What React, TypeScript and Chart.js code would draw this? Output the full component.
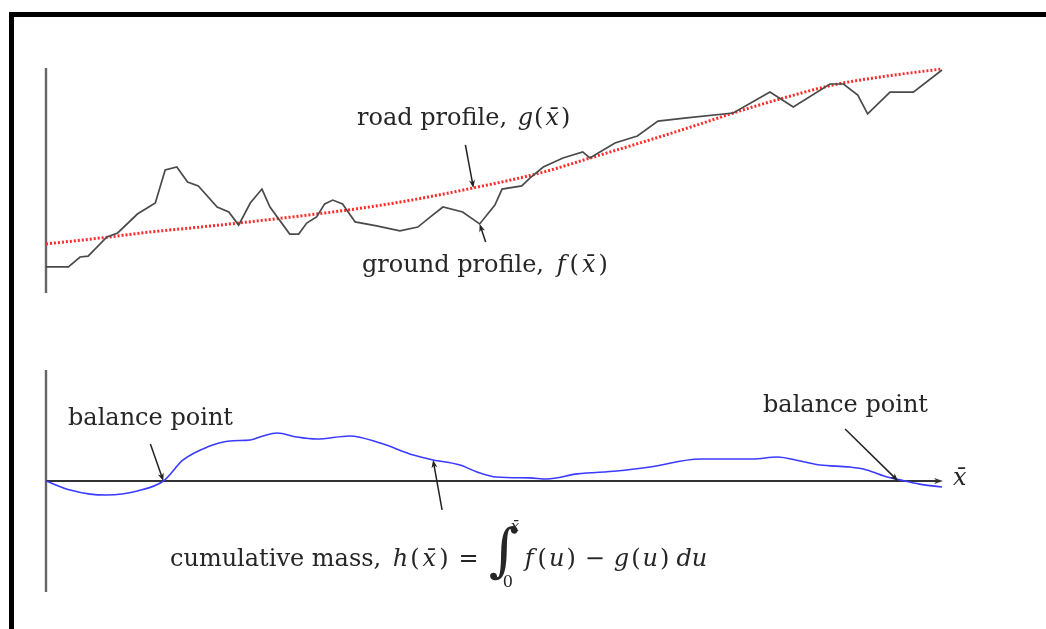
import React, { useEffect, useRef } from "react";
import { Chart, registerables } from "chart.js";

Chart.register(...registerables);

// distance along the route (0–100)
const groundX = [0, 2.5, 3.8, 4.7, 6.8, 8.0, 10.2, 12.2, 13.3, 14.6, 15.8, 17.0, 19.1, 20.4, 21.5, 22.8, 24.1, 25.0, 27.2, 28.2, 29.1, 30.2, 31.1, 32.0, 33.1, 34.5, 36.9, 39.5, 41.5, 42.9, 44.3, 46.5, 48.4, 50.1, 50.9, 53.1, 54.0, 55.5, 57.7, 59.9, 60.7, 63.5, 66.0, 68.3, 71.5, 76.7, 80.8, 83.4, 87.5, 89.0, 90.6, 91.7, 94.2, 96.8, 100];
// ground profile f(x)
const groundY = [11.6, 11.6, 16.0, 16.4, 24.9, 26.7, 35.1, 40.0, 54.7, 56.0, 49.3, 47.6, 38.2, 36.0, 30.2, 40.0, 46.2, 38.2, 26.2, 26.2, 31.1, 33.8, 39.6, 41.3, 39.6, 31.6, 29.8, 27.6, 29.3, 33.8, 38.2, 36.0, 30.7, 39.1, 46.2, 47.6, 51.1, 56.0, 60.0, 62.7, 60.0, 66.7, 69.8, 76.4, 77.8, 80.0, 89.3, 82.7, 92.9, 92.9, 88.0, 79.6, 89.3, 89.3, 99.1];

// road profile g(x)
const roadX = [0, 6.0, 11.6, 17.2, 21.5, 28.3, 32.8, 39.5, 47.7, 55.1, 61.8, 66.3, 73.0, 76.7, 81.9, 87.8, 93.1, 100];
const roadY = [21.8, 24.4, 27.1, 29.3, 31.1, 34.2, 36.4, 40.4, 46.7, 53.3, 61.3, 66.7, 75.1, 80.0, 86.2, 92.4, 96.0, 99.6];

// cumulative mass h(x)
const massX = [0, 2.7, 4.9, 6.8, 10.2, 13.1, 15.3, 18.0, 20.5, 22.8, 24.2, 25.8, 28.0, 30.2, 33.9, 37.3, 41.0, 43.2, 46.2, 48.1, 50.3, 54.0, 55.9, 59.3, 63.7, 67.4, 73.0, 76.0, 78.9, 81.6, 84.2, 86.4, 89.7, 91.6, 93.9, 95.3, 97.5, 100];
const massY = [0, -4.1, -5.9, -6.3, -4.5, 0, 9.5, 15.3, 18.0, 18.5, 20.3, 21.6, 19.8, 18.9, 20.3, 17.1, 11.7, 9.5, 7.2, 4.1, 1.8, 1.4, 0.9, 3.2, 4.5, 6.3, 9.9, 9.9, 9.9, 10.8, 9.0, 7.2, 6.3, 5.0, 1.8, 0.5, -1.4, -2.7];

const FONT = '"DejaVu Serif", serif';

type Ann = { x: number; y: number; dx: number; dy: number };
const topArrows: Ann[] = [
  { x: 47.7, y: 46.7, dx: -8, dy: -43 },
  { x: 48.4, y: 30.7, dx: 6, dy: 18 },
];
const bottomArrows: Ann[] = [
  { x: 13.1, y: 0, dx: -13, dy: -37 },
  { x: 43.2, y: 9.5, dx: 9, dy: 50 },
  { x: 95.1, y: 0, dx: -53, dy: -52 },
];

function drawArrow(ctx: CanvasRenderingContext2D, x1: number, y1: number, x2: number, y2: number, color = "#222", width = 1.6, head = 8) {
  const ang = Math.atan2(y2 - y1, x2 - x1);
  const hw = 3;
  ctx.save();
  ctx.strokeStyle = color;
  ctx.fillStyle = color;
  ctx.lineWidth = width;
  ctx.setLineDash([]);
  ctx.beginPath();
  ctx.moveTo(x1, y1);
  ctx.lineTo(x2 - Math.cos(ang) * head * 0.6, y2 - Math.sin(ang) * head * 0.6);
  ctx.stroke();
  ctx.beginPath();
  ctx.moveTo(x2, y2);
  ctx.lineTo(x2 - head * Math.cos(ang) + hw * Math.sin(ang), y2 - head * Math.sin(ang) - hw * Math.cos(ang));
  ctx.lineTo(x2 - head * 0.7 * Math.cos(ang), y2 - head * 0.7 * Math.sin(ang));
  ctx.lineTo(x2 - head * Math.cos(ang) - hw * Math.sin(ang), y2 - head * Math.sin(ang) + hw * Math.cos(ang));
  ctx.closePath();
  ctx.fill();
  ctx.restore();
}

function makePlugin(arrows: Ann[], withXAxis: boolean) {
  return {
    id: "decor",
    beforeDatasetsDraw(chart: any) {
      const { ctx, chartArea } = chart;
      const ys = chart.scales.y;
      ctx.save();
      ctx.strokeStyle = "#666";
      ctx.lineWidth = 2.4;
      ctx.beginPath();
      ctx.moveTo(chartArea.left, chartArea.top);
      ctx.lineTo(chartArea.left, chartArea.bottom);
      ctx.stroke();
      ctx.restore();
      if (withXAxis) {
        const y0 = ys.getPixelForValue(0);
        drawArrow(ctx, chartArea.left, y0, chartArea.right + 1, y0, "#333", 2, 9);
      }
    },
    afterDatasetsDraw(chart: any) {
      const { ctx } = chart;
      const xs = chart.scales.x;
      const ys = chart.scales.y;
      arrows.forEach((a) => {
        const tx = xs.getPixelForValue(a.x);
        const ty = ys.getPixelForValue(a.y);
        drawArrow(ctx, tx + a.dx, ty + a.dy, tx, ty, "#222", 1.5, 8);
      });
    },
  };
}

function pts(xs: number[], ys: number[]) {
  return xs.map((x, i) => ({ x, y: ys[i] }));
}

function baseOptions(ymin: number, ymax: number, pad: any) {
  return {
    responsive: false,
    animation: false as const,
    events: [],
    layout: { padding: pad },
    scales: {
      x: { type: "linear" as const, min: 0, max: 100, display: false },
      y: { type: "linear" as const, min: ymin, max: ymax, display: false },
    },
    plugins: { legend: { display: false }, tooltip: { enabled: false } },
    elements: { point: { radius: 0 } },
  };
}

export default function App() {
  const topRef = useRef<HTMLCanvasElement>(null);
  const botRef = useRef<HTMLCanvasElement>(null);

  useEffect(() => {
    const top = new Chart(topRef.current!, {
      type: "line",
      data: {
        datasets: [
          {
            data: pts(groundX, groundY),
            borderColor: "#4a4a4a",
            borderWidth: 1.7,
            tension: 0,
            clip: 10,
          },
          {
            data: pts(roadX, roadY),
            borderColor: "#ff2a2a",
            borderWidth: 3,
            borderDash: [2, 2],
            cubicInterpolationMode: "monotone",
            clip: 10,
          },
        ],
      },
      options: baseOptions(0, 100, { left: 46, right: 104, top: 68, bottom: 17 }) as any,
      plugins: [makePlugin(topArrows, false)],
    });
    const bot = new Chart(botRef.current!, {
      type: "line",
      data: {
        datasets: [
          {
            data: pts(massX, massY),
            borderColor: "#3b3bff",
            borderWidth: 1.6,
            cubicInterpolationMode: "monotone",
            clip: 10,
          },
        ],
      },
      options: baseOptions(-50, 50, { left: 46, right: 104, top: 60, bottom: 37 }) as any,
      plugins: [makePlugin(bottomArrows, true)],
    });
    return () => {
      top.destroy();
      bot.destroy();
    };
  }, []);

  const txt = (left: number, top: number, size = 24): React.CSSProperties => ({
    position: "absolute",
    left,
    top,
    fontFamily: FONT,
    fontSize: size,
    lineHeight: 1,
    color: "#262626",
    whiteSpace: "nowrap",
  });
  const it: React.CSSProperties = { fontStyle: "italic" };
  const itp: React.CSSProperties = { fontStyle: "italic", padding: "0 2px" };
  const itw: React.CSSProperties = { fontStyle: "italic", padding: "0 3px" };
  const op: React.CSSProperties = { margin: "0 9px" };

  return (
    <div style={{ position: "absolute", left: 0, top: 0, width: 1046, height: 629, overflow: "hidden", background: "#fff" }}>
      <div style={{ position: "absolute", left: 9, top: 12, width: 3000, height: 3000, borderLeft: "5px solid #000", borderTop: "5px solid #000" }} />
      <canvas ref={topRef} width={1046} height={310} style={{ position: "absolute", left: 0, top: 0 }} />
      <canvas ref={botRef} width={1046} height={319} style={{ position: "absolute", left: 0, top: 310 }} />

      <div style={txt(357, 105)}>
        road profile, <span style={{ ...it, margin: "0 1px 0 3px" }}>g</span>(<span style={itp}>x̄</span>)
      </div>
      <div style={txt(362, 252)}>
        ground profile, <span style={{ ...it, margin: "0 4px 0 5px" }}>f</span>(<span style={itw}>x̄</span>)
      </div>
      <div style={txt(68, 405)}>balance point</div>
      <div style={txt(763, 392)}>balance point</div>
      <div style={txt(953, 465)}>
        <span style={it}>x̄</span>
      </div>
      <div style={txt(170, 542)}>
        cumulative mass, <span style={{ ...it, margin: "0 2px 0 4px" }}>h</span>(<span style={itw}>x̄</span>)<span style={{ margin: "0 10px" }}>=</span>
        <span style={{ display: "inline-block", position: "relative", width: 32, height: "1em" }}>
          <span style={{ position: "absolute", left: 0, top: -21, fontSize: 58, lineHeight: 1 }}>∫</span>
          <span style={{ position: "absolute", left: 22, top: -23, fontSize: 15, ...it }}>x̄</span>
          <span style={{ position: "absolute", left: 14, top: 32, fontSize: 16 }}>0</span>
        </span>
        <span style={{ ...it, margin: "0 4px 0 4px" }}>f</span>(<span style={itp}>u</span>)<span style={op}>−</span><span style={{ ...it, marginRight: 2 }}>g</span>(<span style={itp}>u</span>)<span style={{ ...it, marginLeft: 7 }}>du</span>
      </div>
    </div>
  );
}
